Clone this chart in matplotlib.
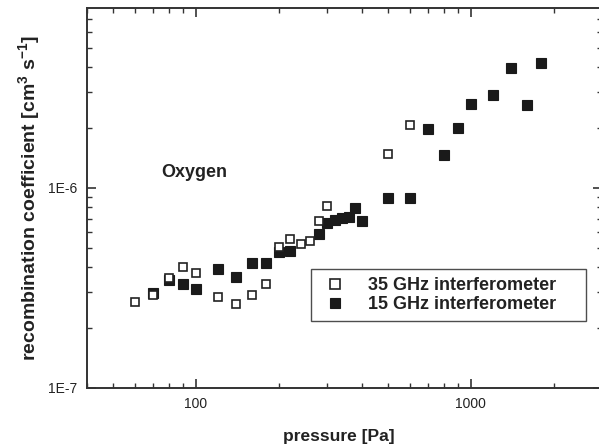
import matplotlib
matplotlib.use("Agg")
import matplotlib.pyplot as plt
from matplotlib.ticker import LogLocator, NullFormatter, FixedLocator, FixedFormatter

plt.rcParams['font.family'] = ['Liberation Sans', 'DejaVu Sans']
plt.rcParams['mathtext.fontset'] = 'custom'
plt.rcParams['mathtext.rm'] = 'Liberation Sans'
plt.rcParams['mathtext.bf'] = 'Liberation Sans:bold'

# 35 GHz interferometer (open squares)
p35 = [60, 70, 80, 90, 100, 120, 140, 160, 180, 200, 220, 240, 260, 280, 300, 500, 600]
k35 = [2.69e-7, 2.90e-7, 3.52e-7, 4.03e-7, 3.76e-7, 2.85e-7, 2.62e-7, 2.91e-7, 3.29e-7,
       5.07e-7, 5.56e-7, 5.22e-7, 5.41e-7, 6.80e-7, 8.15e-7, 1.47e-6, 2.06e-6]

# 15 GHz interferometer (filled squares)
p15 = [70, 80, 90, 100, 120, 140, 160, 180, 200, 220, 280, 300, 320, 340, 360, 380, 400,
       500, 600, 700, 800, 900, 1000, 1200, 1400, 1600, 1800]
k15 = [2.97e-7, 3.44e-7, 3.30e-7, 3.13e-7, 3.94e-7, 3.58e-7, 4.20e-7, 4.20e-7, 4.75e-7,
       4.80e-7, 5.88e-7, 6.64e-7, 6.90e-7, 7.06e-7, 7.16e-7, 7.96e-7, 6.82e-7,
       8.91e-7, 8.91e-7, 1.96e-6, 1.46e-6, 2.00e-6, 2.63e-6, 2.91e-6, 3.98e-6, 2.59e-6, 4.19e-6]

xticks = [100, 1000]
xticklabels = ['100', '1000']
yticks = [1e-7, 1e-6]
yticklabels = ['1E-7', '1E-6']

W, H = 599, 446
fig = plt.figure(figsize=(W / 100, H / 100), dpi=100)
left, right, top, bottom = 86.7, 602.0, 8.3, 387.7
ax = fig.add_axes([left / W, 1 - bottom / H, (right - left) / W, (bottom - top) / H])

ax.set_xscale('log')
ax.set_yscale('log')
ax.set_xlim(40, 3000)
ax.set_ylim(1e-7, 7.9e-6)

ax.plot(p15, k15, linestyle='none', marker='s', markersize=6.6,
        markerfacecolor='#1a1a1a', markeredgecolor='#1a1a1a', markeredgewidth=0.8,
        label='15 GHz interferometer', zorder=3)
ax.plot(p35, k35, linestyle='none', marker='s', markersize=6.2,
        markerfacecolor='white', markeredgecolor='#222222', markeredgewidth=1.2,
        label='35 GHz interferometer', zorder=4)

spine_c = '#333333'
for s in ax.spines.values():
    s.set_linewidth(1.4)
    s.set_color(spine_c)

ax.xaxis.set_major_locator(FixedLocator(xticks))
ax.xaxis.set_major_formatter(FixedFormatter(xticklabels))
ax.yaxis.set_major_locator(FixedLocator(yticks))
ax.yaxis.set_major_formatter(FixedFormatter(yticklabels))
ax.xaxis.set_minor_locator(LogLocator(base=10, subs=range(2, 10), numticks=20))
ax.yaxis.set_minor_locator(LogLocator(base=10, subs=range(2, 10), numticks=20))
ax.xaxis.set_minor_formatter(NullFormatter())
ax.yaxis.set_minor_formatter(NullFormatter())

ax.tick_params(which='both', direction='in', top=True, right=True, color=spine_c,
               labelcolor='#222222', labelsize=10, pad=7)
ax.tick_params(which='major', length=6.5, width=1.2)
ax.tick_params(which='minor', length=3.6, width=1.0)

ax.set_xlabel('pressure [Pa]', fontsize=12.5, fontweight='bold', color='#222222')
ax.set_ylabel(r'recombination coefficient [cm$^\mathregular{3}$ s$^\mathregular{-1}$]',
              fontsize=14, fontweight='bold', color='#222222')
ax.xaxis.label.set_va('center')
ax.xaxis.set_label_coords((338.4 - left) / (right - left), (bottom - 436) / (bottom - top))
ax.yaxis.label.set_va('center')
ax.yaxis.set_label_coords((30 - left) / (right - left), (bottom - 198.5) / (bottom - top))

ax.text((161.7 - left) / (right - left), (bottom - 176.7) / (bottom - top), 'Oxygen',
        transform=ax.transAxes, ha='left', va='baseline', fontsize=13,
        fontweight='bold', color='#222222')

handles, labels = ax.get_legend_handles_labels()
bx0 = (311 - left) / (right - left)
by0 = (bottom - 321) / (bottom - top)
bw = (586 - 311) / (right - left)
bh = (321 - 265) / (bottom - top)
leg = ax.legend(handles[::-1], labels[::-1], loc='lower left',
                bbox_to_anchor=(bx0, by0, bw, bh), mode='expand', borderaxespad=0,
                prop={'weight': 'bold', 'size': 13}, frameon=True, fancybox=False,
                edgecolor='#222222', borderpad=0.45, handlelength=1.8,
                handletextpad=0.9, labelspacing=0.1, markerscale=1.15)
leg.get_frame().set_linewidth(1.0)
for t in leg.get_texts():
    t.set_color('#222222')

fig.savefig('out.png', dpi=100)
